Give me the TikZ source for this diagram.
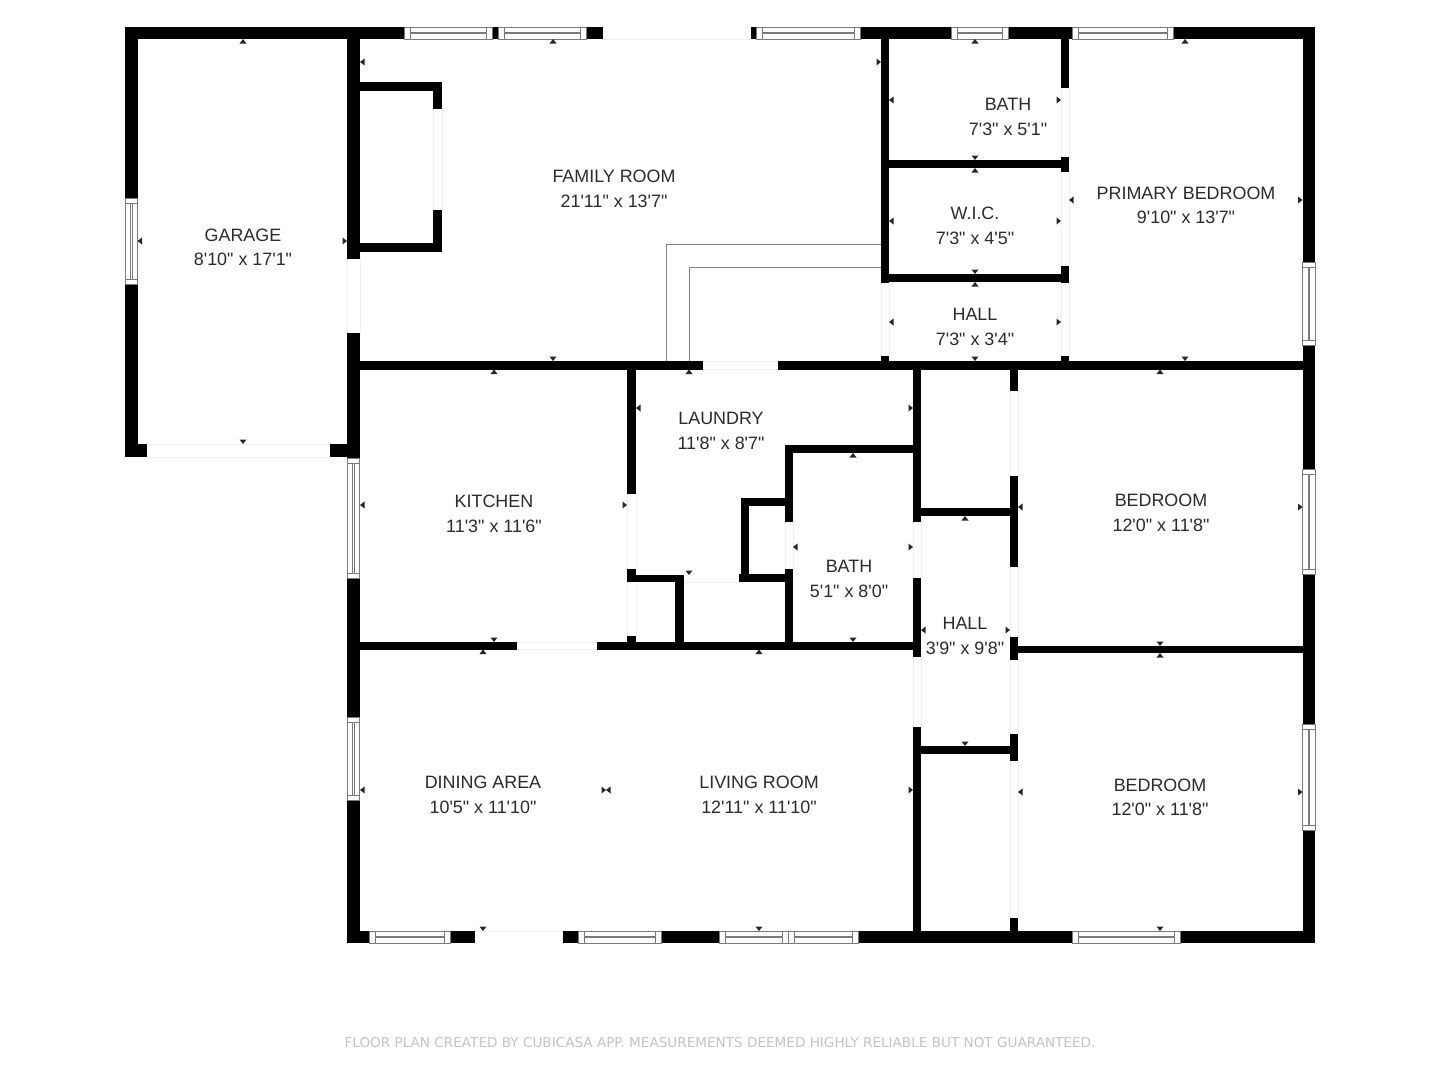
\documentclass[tikz,border=0pt]{standalone}
\usepackage{fontspec}
\newfontfamily\lblfont{Liberation Sans}
\newfontfamily\footfont{DejaVu Sans}
\definecolor{lbl}{HTML}{2B2B2B}
\definecolor{winline}{HTML}{7A7A7A}
\definecolor{doorline}{HTML}{EFEFEF}
\definecolor{footgray}{HTML}{C4C4C4}
\definecolor{stairline}{HTML}{808080}
\tikzset{
  wallfill/.style={fill=black},
  winframe/.style={draw=winline,line width=1pt,fill=white},
  winthin/.style={draw=winline,line width=0.8pt},
  doorthin/.style={draw=doorline,line width=0.9pt},
  stairthin/.style={draw=stairline,line width=0.9pt},
  tickmark/.style={fill=black!85},
  roomlabel/.style={font=\lblfont\fontsize{17.9}{24.5}\selectfont,text=lbl,align=center,inner sep=0pt},
  footnote/.style={font=\footfont\fontsize{13.58}{16}\selectfont,text=footgray,inner sep=0pt}
}
\newcommand{\Wl}[4]{\fill[wallfill] (#1,#2) rectangle (#3,#4);}
% horizontal window x1 x2 ytop
\newcommand{\Hw}[3]{\draw[winframe] (#1,#3) rectangle (#2,#3+12);
  \draw[winthin] (#1+6,#3)--(#1+6,#3+12) (#2-6,#3)--(#2-6,#3+12)
    (#1+6,#3+5.4)--(#2-6,#3+5.4) (#1+6,#3+6.8)--(#2-6,#3+6.8);}
% vertical window y1 y2 xleft
\newcommand{\Vw}[3]{\draw[winframe] (#3,#1) rectangle (#3+12.5,#2);
  \draw[winthin] (#3,#1+5)--(#3+12.5,#1+5) (#3,#2-5)--(#3+12.5,#2-5)
    (#3+5.6,#1+5)--(#3+5.6,#2-5) (#3+7,#1+5)--(#3+7,#2-5);}
% horizontal / vertical pairs of faint door lines
\newcommand{\Hd}[4]{\draw[doorthin] (#1,#3)--(#2,#3) (#1,#4)--(#2,#4);}
\newcommand{\Vd}[4]{\draw[doorthin] (#3,#1)--(#3,#2) (#4,#1)--(#4,#2);}
% ticks: apex at point, pointing up, down, left, right
\newcommand{\Tu}[2]{\fill[tickmark] (#1,#2)--(#1-3.5,#2+4.5)--(#1+3.5,#2+4.5)--cycle;}
\newcommand{\Td}[2]{\fill[tickmark] (#1,#2)--(#1-3.5,#2-4.5)--(#1+3.5,#2-4.5)--cycle;}
\newcommand{\Tl}[2]{\fill[tickmark] (#1,#2)--(#1+4.5,#2-3.5)--(#1+4.5,#2+3.5)--cycle;}
\newcommand{\Tr}[2]{\fill[tickmark] (#1,#2)--(#1-4.5,#2-3.5)--(#1-4.5,#2+3.5)--cycle;}
\begin{document}
\begin{tikzpicture}[x=1pt,y=-1pt]
\useasboundingbox (0,0) rectangle (1440,1080);
\fill[white] (0,0) rectangle (1440,1080);
% stairs outline
\draw[stairthin] (666,361)--(666,244)--(882,244);
\draw[stairthin] (689,361)--(689,267)--(882,267);
% faint door lines
\Hd{603}{750}{39}{39}
\Vd{109}{210}{433}{442}
\Vd{259}{333}{347}{360}
\Hd{147}{330}{444}{457}
\Vd{283}{356}{881}{889}
\Vd{88}{157}{1061}{1069}
\Vd{172}{266}{1061}{1069}
\Vd{283}{356}{1061}{1069}
\Hd{703}{778}{361}{369}
\Vd{494}{569}{627}{636}
\Vd{582}{636}{627}{636}
\Hd{517}{597}{642}{649}
\Hd{684}{739}{582}{582}
\Vd{522}{569}{785}{793}
\Vd{522}{578}{913}{921}
\Vd{657}{727}{913}{921}
\Vd{391}{476}{1010}{1018}
\Vd{567}{637}{1010}{1018}
\Vd{660}{734}{1010}{1018}
\Vd{761}{918}{1010}{1018}
\Hd{475}{563}{931}{931}
% outer top wall
\Wl{125}{27}{404}{39}
\Wl{492}{27}{498}{39}
\Wl{585}{27}{603}{39}
\Wl{751}{27}{756}{39}
\Wl{860}{27}{951}{39}
\Wl{1008}{27}{1072}{39}
\Wl{1173}{27}{1315}{39}
\Hw{404}{492}{27}
\Hw{498}{586}{27}
\Hw{756}{860}{27}
\Hw{951}{1008}{27}
\Hw{1072}{1173}{27}
% garage
\Wl{125}{27}{137.5}{198}
\Wl{125}{284}{137.5}{457}
\Vw{198}{284}{125}
\Wl{125}{444}{147}{457}
\Wl{330}{444}{360}{457}
% wall garage / house
\Wl{347}{27}{360}{259}
\Wl{347}{333}{360}{458}
\Wl{347}{578}{360}{717}
\Wl{347}{800}{360}{943}
\Vw{458}{578}{347}
\Vw{717}{800}{347}
% alcove
\Wl{360}{82}{442}{91}
\Wl{433}{82}{442}{109}
\Wl{433}{210}{442}{252}
\Wl{360}{243}{442}{252}
% right wall
\Wl{1302.5}{27}{1315}{262}
\Wl{1302.5}{345}{1315}{469}
\Wl{1302.5}{574}{1315}{724}
\Wl{1302.5}{830}{1315}{943}
\Vw{262}{345}{1302.5}
\Vw{469}{574}{1302.5}
\Vw{724}{830}{1302.5}
% main horizontal
\Wl{347}{361}{703}{369.5}
\Wl{778}{361}{1315}{369.5}
% upper right rooms
\Wl{881}{39}{889}{283}
\Wl{881}{356}{889}{361}
\Wl{1061}{39}{1069}{88}
\Wl{1061}{157}{1069}{172}
\Wl{1061}{266}{1069}{283}
\Wl{1061}{356}{1069}{361}
\Wl{889}{160}{1061}{168}
\Wl{889}{274}{1061}{282}
% kitchen / laundry
\Wl{627}{369}{636}{494}
\Wl{627}{569}{636}{582}
\Wl{627}{575}{684}{582}
\Wl{675}{575}{684}{642}
\Wl{627}{636}{636}{642}
\Wl{347}{642}{517}{649.5}
\Wl{597}{642}{921}{649.5}
% bath
\Wl{913}{369}{921}{522}
\Wl{913}{578}{921}{657}
\Wl{785}{445}{913}{453}
\Wl{785}{445}{793}{522}
\Wl{785}{569}{793}{649}
\Wl{741}{498}{785}{506}
\Wl{741}{498}{749}{582}
\Wl{739}{574}{785}{582}
% hall and bedrooms
\Wl{921}{508}{1010}{516}
\Wl{1010}{369}{1018}{391}
\Wl{1010}{476}{1018}{567}
\Wl{1010}{637}{1018}{660}
\Wl{1018}{646}{1303}{653}
\Wl{913}{727}{921}{943}
\Wl{921}{746}{1010}{754}
\Wl{1010}{734}{1018}{761}
\Wl{1010}{918}{1018}{931}
% bottom wall
\Wl{347}{931}{369}{943}
\Wl{450}{931}{475}{943}
\Wl{563}{931}{578}{943}
\Wl{661}{931}{719}{943}
\Wl{858}{931}{1072}{943}
\Wl{1180}{931}{1315}{943}
\Hw{369}{450}{931}
\Hw{578}{661}{931}
\Hw{719}{788}{931}
\Hw{788}{858}{931}
\Hw{1072}{1180}{931}
% ticks
\Tu{243}{39}\Tl{137.5}{241}\Tr{347}{241}\Td{243}{444}
\Tu{553}{39}\Tl{360}{62}\Td{553}{361}\Tr{881}{62}
\Tu{975}{39}\Tl{889}{100}\Tr{1061}{100}\Td{975}{160}
\Tu{975}{168}\Tl{889}{221}\Tr{1061}{221}\Td{975}{274}
\Tu{975}{282}\Tl{889}{322}\Tr{1061}{322}\Td{975}{361}
\Tu{1185}{39}\Tl{1069}{200}\Tr{1302.5}{200}\Td{1185}{361}
\Tu{494}{369.5}\Tl{360}{505}\Tr{627}{505}\Td{494}{642}
\Tu{689}{369.5}\Tl{636}{408}\Tr{913}{408}\Td{689}{575}
\Tu{853}{453}\Tl{793}{547}\Tr{913}{547}\Td{853}{642}
\Tu{965}{516}\Tl{921}{630}\Tr{1010}{630}\Td{965}{746}
\Tu{1160}{369.5}\Tl{1018}{507}\Tr{1302.5}{507}\Td{1160}{646}
\Tu{1160}{653}\Tl{1018}{792}\Tr{1302.5}{792}\Td{1160}{931}
\Tu{483}{649.5}\Tl{360}{790}\Tr{606}{790}\Td{483}{931}
\Tu{759}{649.5}\Tl{606}{790}\Tr{913}{790}\Td{759}{931}
% labels
\node[roomlabel] (garage) at (243,247.5) {GARAGE\\8'10" x 17'1"};
\node[roomlabel] (family) at (614,189) {FAMILY ROOM\\21'11" x 13'7"};
\node[roomlabel] (bathup) at (1008,117) {BATH\\7'3" x 5'1"};
\node[roomlabel] (wic) at (975,226) {W.I.C.\\7'3" x 4'5"};
\node[roomlabel] (hallup) at (975,327) {HALL\\7'3" x 3'4"};
\node[roomlabel] (primary) at (1186,205.5) {PRIMARY BEDROOM\\9'10" x 13'7"};
\node[roomlabel] (laundry) at (721,431) {LAUNDRY\\11'8" x 8'7"};
\node[roomlabel] (kitchen) at (494,514) {KITCHEN\\11'3" x 11'6"};
\node[roomlabel] (bedone) at (1161,513) {BEDROOM\\12'0" x 11'8"};
\node[roomlabel] (bathlow) at (849,579) {BATH\\5'1" x 8'0"};
\node[roomlabel] (halllow) at (965,636) {HALL\\3'9" x 9'8"};
\node[roomlabel] (dining) at (483,795) {DINING AREA\\10'5" x 11'10"};
\node[roomlabel] (living) at (759,795) {LIVING ROOM\\12'11" x 11'10"};
\node[roomlabel] (bedtwo) at (1160,797.5) {BEDROOM\\12'0" x 11'8"};
\node[footnote] (credit) at (720,1042.5) {FLOOR PLAN CREATED BY CUBICASA APP. MEASUREMENTS DEEMED HIGHLY RELIABLE BUT NOT GUARANTEED.};
\end{tikzpicture}
\end{document}
